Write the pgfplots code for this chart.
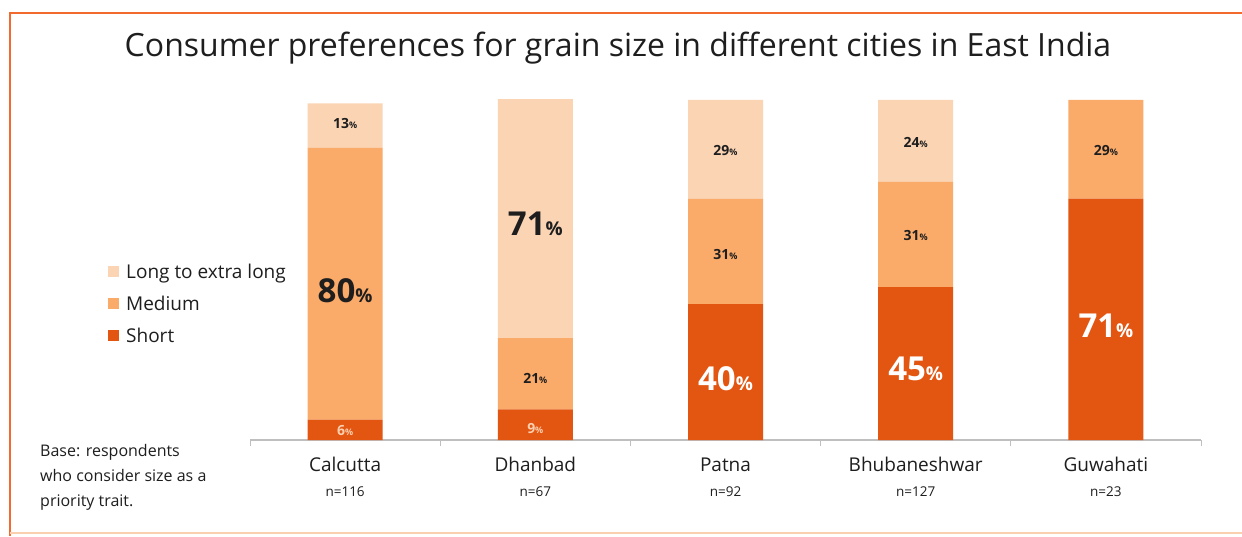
\documentclass[border=0pt]{standalone}
\usepackage{pgfplots}
\pgfplotsset{compat=1.18}
\usepackage{fontspec}
\setmainfont{Open Sans}
\definecolor{cLong}{HTML}{FBD4B4}
\definecolor{cMed}{HTML}{FAAA69}
\definecolor{cShort}{HTML}{E35612}
\definecolor{cBorder}{HTML}{F26A2E}
\definecolor{cPeach}{HTML}{FBD0B0}
\definecolor{cAxis}{HTML}{BFBFBF}
\definecolor{cText}{HTML}{1E1E1E}
\newcommand{\BL}[1]{\textcolor{cText}{\fontsize{33}{33}\selectfont\bfseries #1{\fontsize{19}{19}\selectfont\%}}}
\newcommand{\BW}[1]{\textcolor{white}{\fontsize{33}{33}\selectfont\bfseries #1{\fontsize{19}{19}\selectfont\%}}}
\newcommand{\SL}[1]{\textcolor{cText}{\fontsize{14}{14}\selectfont\bfseries #1{\fontsize{9}{9}\selectfont\%}}}
\newcommand{\SW}[1]{\textcolor{cPeach}{\fontsize{14}{14}\selectfont\bfseries #1{\fontsize{9}{9}\selectfont\%}}}
\begin{document}
\begin{tikzpicture}
\useasboundingbox (0pt,0pt) rectangle (1242pt,536pt);
\fill[white] (0pt,0pt) rectangle (1242pt,536pt);
% frame
\draw[cBorder, line width=2pt] (10pt,0pt) -- (10pt,523pt) -- (1242pt,523pt);
\draw[cPeach, line width=1.5pt] (10pt,3pt) -- (1242pt,3pt);
% title
\node[font=\fontsize{32}{35}\selectfont, text=cText] at (618pt,488pt) {Consumer preferences for grain size in different cities in East India};
% base note
\node[anchor=north west, align=left, font=\fontsize{16}{25}\selectfont, text=cText, inner sep=0pt] at (40pt,92pt) {Base: respondents\\who consider size as a\\priority trait.};
\begin{axis}[
  at={(250pt,96pt)}, anchor=south west,
  scale only axis, width=951pt, height=340pt,
  ybar stacked, bar width=75pt,
  xmin=-0.5, xmax=4.5, ymin=0, ymax=100,
  axis y line=none, axis x line=bottom,
  axis line style={-, cAxis, line width=1.2pt},
  xtick={0,1,2,3,4},
  xticklabels={{Calcutta\\[3pt]{\fontsize{13.5}{13.5}\selectfont n=116}},
               {Dhanbad\\[3pt]{\fontsize{13.5}{13.5}\selectfont n=67}},
               {Patna\\[3pt]{\fontsize{13.5}{13.5}\selectfont n=92}},
               {Bhubaneshwar\\[3pt]{\fontsize{13.5}{13.5}\selectfont n=127}},
               {Guwahati\\[3pt]{\fontsize{13.5}{13.5}\selectfont n=23}}},
  xticklabel style={align=center, font=\fontsize{19}{22}\selectfont, text=cText, yshift=-14pt},
  major tick length=0pt,
  minor xtick={-0.5,0.5,1.5,2.5,3.5,4.5},
  minor tick length=6pt, tick align=outside,
  minor tick style={cAxis, line width=1pt},
  legend image code/.code={\fill[#1] (0pt,-5.5pt) rectangle (11pt,5.5pt);},
  reverse legend,
  legend cell align=left,
  legend style={at={(-0.1525,0.53)}, anchor=north west, draw=none, fill=none,
    font=\fontsize{19}{19}\selectfont, text=cText, row sep=12pt,
    /tikz/every odd column/.style={column sep=5pt}},
  clip=true,
]
\addplot[fill=cShort, draw=none] coordinates {(0,6) (1,9) (2,40) (3,45) (4,71)};
\addlegendentry{Short}
\addplot[fill=cMed, draw=none] coordinates {(0,80) (1,21) (2,31) (3,31) (4,29)};
\addlegendentry{Medium}
\addplot[fill=cLong, draw=none] coordinates {(0,13) (1,71) (2,29) (3,24) (4,0)};
\addlegendentry{Long to extra long}
\end{axis}
\begin{axis}[
  at={(250pt,96pt)}, anchor=south west,
  scale only axis, width=951pt, height=340pt,
  xmin=-0.5, xmax=4.5, ymin=0, ymax=100,
  hide axis, clip=false,
]
\addplot[draw=none, mark=none, nodes near coords, point meta=explicit symbolic,
  every node near coord/.style={anchor=center, inner sep=0pt}]
  coordinates {
  (0,2.8) [\SW{6}] (0,44) [\BL{80}] (0,93) [\SL{13}]
  (1,3.4) [\SW{9}] (1,18) [\SL{21}] (1,63.5) [\BL{71}]
  (2,18) [\BW{40}] (2,54.5) [\SL{31}] (2,85) [\SL{29}]
  (3,21) [\BW{45}] (3,60) [\SL{31}] (3,87.5) [\SL{24}]
  (4,33.5) [\BW{71}] (4,85) [\SL{29}]
  };
\end{axis}
\end{tikzpicture}
\end{document}
